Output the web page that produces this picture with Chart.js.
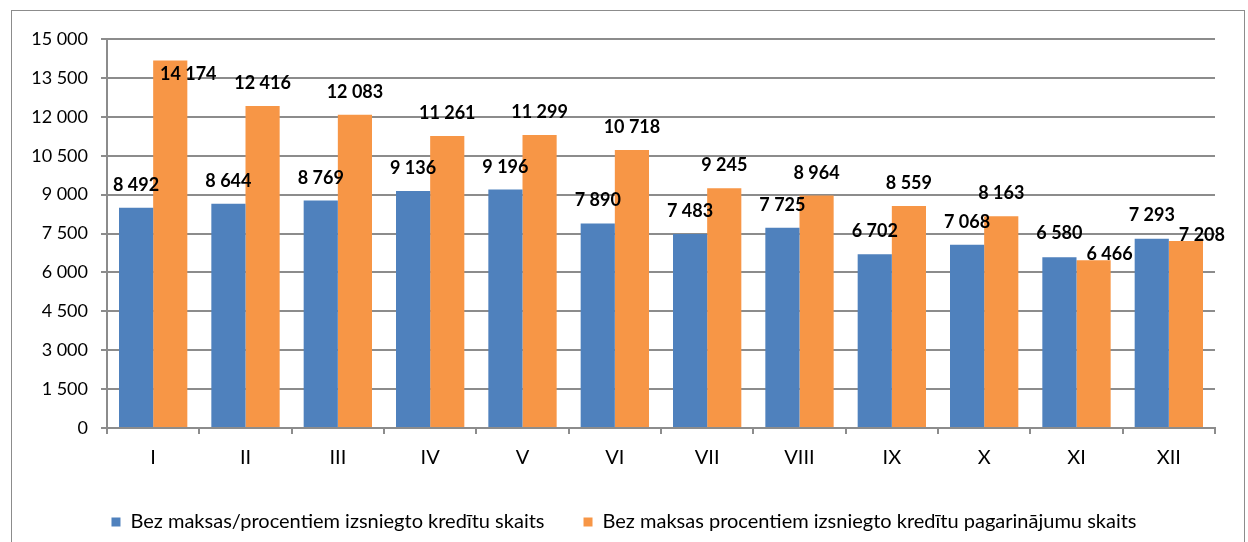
<!DOCTYPE html>
<html>
<head>
<meta charset="utf-8">
<script src="https://cdn.jsdelivr.net/npm/chart.js@4.4.1/dist/chart.umd.min.js"></script>
<style>
  html, body { margin: 0; padding: 0; background: #fff; }
  #wrap { width: 1248px; height: 542px; }
</style>
</head>
<body>
<div id="wrap"><canvas id="graph" width="1248" height="542"></canvas></div>
<script>
// months (roman numerals)
var months = ["I", "II", "III", "IV", "V", "VI", "VII", "VIII", "IX", "X", "XI", "XII"];
// issued credits
var issuedCounts = [8492, 8644, 8769, 9136, 9196, 7890, 7483, 7725, 6702, 7068, 6580, 7293];
// credit extensions
var extensionCounts = [14174, 12416, 12083, 11261, 11299, 10718, 9245, 8964, 8559, 8163, 6466, 7208];
var seriesNames = [
  "Bez maksas/procentiem izsniegto kredītu skaits",
  "Bez maksas procentiem izsniegto kredītu pagarinājumu skaits"
];
var yMax = 15000;
var yStep = 1500;

var gridGray = "#8c8c8c";

var fmt = function(v) {
  return String(v).replace(/\B(?=(\d{3})+(?!\d))/g, " ");
};

// outer frame like the spreadsheet chart box
var framePlugin = {
  id: "frame",
  beforeDraw: function(chart) {
    var ctx = chart.ctx;
    ctx.save();
    ctx.fillStyle = "#fff";
    ctx.fillRect(0, 0, chart.width, chart.height);
    ctx.strokeStyle = gridGray;
    ctx.lineWidth = 1;
    ctx.strokeRect(11.5, 10.5, 1233, 600);
    ctx.restore();
  }
};

// value labels over the bars
var labelPlugin = {
  id: "valueLabels",
  afterDatasetsDraw: function(chart) {
    var ctx = chart.ctx;
    var metaA = chart.getDatasetMeta(0);
    var metaB = chart.getDatasetMeta(1);
    ctx.save();
    ctx.font = "bold 18px Lato";
    ctx.fillStyle = "#000";
    ctx.textAlign = "center";
    ctx.textBaseline = "alphabetic";
    for (var i = 0; i < months.length; i++) {
      var a = metaA.data[i], b = metaB.data[i];
      var pa = { x: a.x, y: a.y - 17 };
      var pb = { x: b.x, y: b.y - 17 };
      // no room above: put it inside the bar top
      if (pb.y - 14 < chart.chartArea.top) {
        pb.y = b.y + 20;
        pb.x += 18;
      }
      // labels of a pair collide: push them apart
      if (Math.abs(pa.y - pb.y) < 20) {
        pa.y = a.y - 18;
        pb.y = b.y;
        pb.x += 16;
      }
      ctx.fillText(fmt(issuedCounts[i]), pa.x, pa.y);
      ctx.fillText(fmt(extensionCounts[i]), pb.x, pb.y);
    }
    ctx.restore();
  }
};

Chart.defaults.font.family = "Lato";
Chart.defaults.color = "#000";

var ctx = document.getElementById("graph").getContext("2d");
var chart = new Chart(ctx, {
  type: "bar",
  data: {
    labels: months,
    datasets: [{
      label: seriesNames[0],
      data: issuedCounts,
      backgroundColor: "#4F81BD",
      borderWidth: 0
    }, {
      label: seriesNames[1],
      data: extensionCounts,
      backgroundColor: "#F79646",
      borderWidth: 0
    }]
  },
  options: {
    responsive: false,
    animation: false,
    categoryPercentage: 0.74,
    barPercentage: 1.0,
    layout: { padding: { top: 39, right: 0, bottom: 0, left: 0 } },
    plugins: {
      tooltip: { enabled: false },
      legend: {
        position: "bottom",
        labels: {
          font: { size: 20 },
          boxWidth: 9,
          boxHeight: 9,
          padding: 39,
          color: "#000"
        }
      }
    },
    scales: {
      x: {
        grid: {
          display: true,
          drawOnChartArea: false,
          drawTicks: true,
          tickLength: 6,
          color: gridGray,
          lineWidth: 2
        },
        border: { display: true, color: gridGray, width: 2 },
        ticks: { font: { size: 20 }, padding: 12, color: "#000" },
        afterFit: function(s) { s.height = 45; }
      },
      y: {
        min: 0,
        max: yMax,
        ticks: {
          stepSize: yStep,
          font: { size: 18 },
          padding: 13,
          color: "#000",
          callback: function(v) { return fmt(v); }
        },
        grid: { color: gridGray, lineWidth: 2, tickLength: 6 },
        border: { display: true, color: gridGray, width: 2 },
        afterFit: function(s) { s.width = 107; }
      },
      y2: {
        position: "right",
        display: true,
        grid: { display: false, drawTicks: false },
        border: { display: false },
        ticks: { display: false },
        afterFit: function(s) { s.width = 33; }
      }
    }
  },
  plugins: [framePlugin, labelPlugin]
});
</script>
</body>
</html>
